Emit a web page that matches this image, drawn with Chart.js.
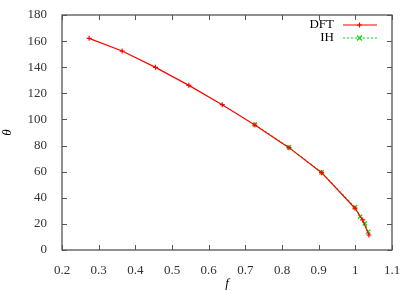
<!DOCTYPE html>
<html><head><meta charset="utf-8">
<script src="https://cdn.jsdelivr.net/npm/chart.js@4"></script>
<style>html,body{margin:0;padding:0;background:#fff}#w{width:415px;height:291px}</style>
</head><body><div id="w"><canvas id="c" width="415" height="291"></canvas></div>
<script>
const dftF = [0.274, 0.364, 0.455, 0.546, 0.637, 0.726, 0.819, 0.908, 0.999, 1.020, 1.037];
const dftTheta = [162.1, 152.4, 139.9, 126.1, 111.3, 95.7, 78.4, 59.2, 32.0, 23.0, 11.5];
const ihF = [0.726, 0.819, 0.908, 0.999, 1.013, 1.026, 1.035];
const ihTheta = [96.0, 78.6, 59.4, 32.7, 25.5, 20.4, 14.0];
const xTicks = [0.2, 0.3, 0.4, 0.5, 0.6, 0.7, 0.8, 0.9, 1, 1.1];
const yTicks = [0, 20, 40, 60, 80, 100, 120, 140, 160, 180];
const seriesNames = ['DFT', 'IH'];

const FONT = '"Liberation Serif", "DejaVu Serif", serif';
const RED = '#ff0000';
const GREEN = '#00e000';
const toPts = (xs, ys) => xs.map((x, i) => ({x: x, y: ys[i]}));

const framePlugin = {
  id: 'frame',
  beforeDatasetsDraw(chart) {
    const {ctx, chartArea: a, scales} = chart;
    ctx.save();
    ctx.strokeStyle = '#555555';
    ctx.lineWidth = 1.3;
    ctx.strokeRect(a.left, a.top, a.right - a.left, a.bottom - a.top);
    ctx.lineWidth = 1;
    ctx.beginPath();
    xTicks.forEach(v => {
      const px = Math.round(scales.x.getPixelForValue(v)) + 0.5;
      ctx.moveTo(px, a.bottom); ctx.lineTo(px, a.bottom - 5);
      ctx.moveTo(px, a.top); ctx.lineTo(px, a.top + 5);
    });
    yTicks.forEach(v => {
      const py = Math.round(scales.y.getPixelForValue(v)) + 0.5;
      ctx.moveTo(a.left, py); ctx.lineTo(a.left + 5, py);
      ctx.moveTo(a.right, py); ctx.lineTo(a.right - 5, py);
    });
    ctx.stroke();
    ctx.restore();
  },
  afterDatasetsDraw(chart) {
    const {ctx} = chart;
    ctx.save();
    ctx.font = '13px ' + FONT;
    ctx.fillStyle = '#000';
    ctx.textAlign = 'right';
    ctx.textBaseline = 'middle';
    ctx.lineWidth = 1.2;
    const rows = [{y: 25, c: RED, dash: [], m: 'plus'}, {y: 38, c: GREEN, dash: [2, 2], m: 'x'}];
    rows.forEach((r, i) => {
      ctx.fillStyle = '#000';
      ctx.fillText(seriesNames[i], 334, r.y);
      ctx.strokeStyle = r.c;
      ctx.setLineDash(r.dash);
      ctx.beginPath(); ctx.moveTo(343, r.y); ctx.lineTo(377, r.y); ctx.stroke();
      ctx.setLineDash([]);
      ctx.beginPath();
      if (r.m === 'plus') { ctx.moveTo(357, r.y); ctx.lineTo(362, r.y); ctx.moveTo(359.5, r.y - 2.5); ctx.lineTo(359.5, r.y + 2.5); }
      else { ctx.moveTo(357, r.y - 2.5); ctx.lineTo(362, r.y + 2.5); ctx.moveTo(362, r.y - 2.5); ctx.lineTo(357, r.y + 2.5); }
      ctx.stroke();
    });
    ctx.restore();
  }
};

new Chart(document.getElementById('c'), {
  type: 'scatter',
  data: {
    datasets: [
      {label: seriesNames[0], data: toPts(dftF, dftTheta), showLine: true, borderColor: RED, backgroundColor: RED,
       borderWidth: 1.2, pointStyle: 'cross', pointRadius: 2.5, pointBorderWidth: 1.2, tension: 0},
      {label: seriesNames[1], data: toPts(ihF, ihTheta), showLine: true, borderColor: GREEN, backgroundColor: GREEN,
       borderWidth: 1.2, borderDash: [2, 2], pointStyle: 'crossRot', pointRadius: 3, pointBorderWidth: 1.3, tension: 0}
    ]
  },
  options: {
    responsive: false,
    animation: false,
    layout: {padding: {top: 15, right: 23, left: 0, bottom: 0}},
    plugins: {legend: {display: false}, tooltip: {enabled: false}},
    scales: {
      x: {
        type: 'linear', min: 0.2, max: 1.1,
        afterBuildTicks: s => { s.ticks = xTicks.map(v => ({value: v})); },
        afterFit: s => { s.height = 41; },
        grid: {display: false}, border: {display: false},
        ticks: {padding: 5, color: '#333', font: {family: FONT, size: 13}, maxRotation: 0,
                callback: v => String(Number(v.toFixed(2)))},
        title: {display: true, text: 'f', color: '#000', font: {family: FONT, size: 13, style: 'italic'}, padding: {top: 4, bottom: 0}}
      },
      y: {
        type: 'linear', min: 0, max: 180,
        afterBuildTicks: s => { s.ticks = yTicks.map(v => ({value: v})); },
        afterFit: s => { s.width = 62; },
        grid: {display: false}, border: {display: false},
        ticks: {padding: 7, color: '#333', font: {family: FONT, size: 13}},
        title: {display: true, text: 'θ', color: '#000', font: {family: FONT, size: 13, style: 'italic'}, padding: {top: 0, bottom: 12}}
      }
    }
  },
  plugins: [framePlugin]
});
</script></body></html>
